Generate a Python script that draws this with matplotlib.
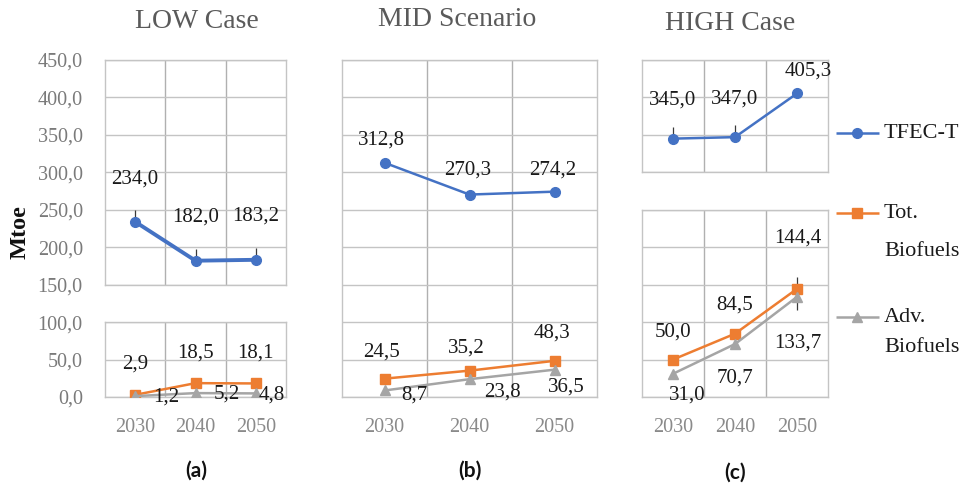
import matplotlib
matplotlib.use("Agg")
import matplotlib.pyplot as plt
from matplotlib.ticker import FuncFormatter, MultipleLocator

# ---------------- data (Mtoe) ----------------
years = ["2030", "2040", "2050"]

low_tfec = [234.0, 182.0, 183.2]
low_tot_bio = [2.9, 18.5, 18.1]
low_adv_bio = [1.2, 5.2, 4.8]

mid_tfec = [312.8, 270.3, 274.2]
mid_tot_bio = [24.5, 35.2, 48.3]
mid_adv_bio = [8.7, 23.8, 36.5]

high_tfec = [345.0, 347.0, 405.3]
high_tot_bio = [50.0, 84.5, 144.4]
high_adv_bio = [31.0, 70.7, 133.7]

# uncertainty whiskers (lower, upper)
low_tfec_err = ([0, 0, 0], [16, 16, 16])
high_tfec_err = ([0, 0, 0], [16, 16, 0])
high_tot_err = ([0, 0, 0], [0, 0, 16])
high_adv_err = ([0, 0, 17], [0, 0, 0])

panel_titles = ["LOW Case", "MID Scenario", "HIGH Case"]
panel_letters = ["(a)", "(b)", "(c)"]
series_names = ["TFEC-T", "Tot.\nBiofuels", "Adv.\nBiofuels"]

# ---------------- style ----------------
W, H = 969, 492
C_TFEC = "#4472C4"
C_TOT = "#ED7D31"
C_ADV = "#A5A5A5"
GRID = "#c4c4c4"
SERIF = "Liberation Serif"

Y_ZERO_PX = 397.0
PX_PER_UNIT = (397.0 - 60.0) / 450.0


def rect(x0, x1, vlo, vhi):
    ytop = Y_ZERO_PX - vhi * PX_PER_UNIT
    ybot = Y_ZERO_PX - vlo * PX_PER_UNIT
    return [x0 / W, 1 - ybot / H, (x1 - x0) / W, (ybot - ytop) / H]


fig = plt.figure(figsize=(W / 100, H / 100), dpi=100)
fig.patch.set_facecolor("white")

comma_fmt = FuncFormatter(lambda v, p: f"{v:.1f}".replace(".", ","))


def make_axes(x0, x1, vlo, vhi, show_y, show_x):
    ax = fig.add_axes(rect(x0, x1, vlo, vhi))
    ax.set_xlim(-0.5, 2.5)
    ax.set_ylim(vlo, vhi)
    ax.yaxis.set_major_locator(MultipleLocator(50))
    ax.set_xticks(range(3))
    ax.set_xticks([0.5, 1.5], minor=True)
    ax.grid(True, which="major", axis="y", color=GRID, lw=1.0)
    ax.grid(True, which="minor", axis="x", color="#b0b0b0", lw=1.0)
    ax.set_axisbelow(True)
    for s in ax.spines.values():
        s.set_color(GRID)
        s.set_linewidth(1.0)
    ax.tick_params(which="both", length=0)
    if show_y:
        ax.yaxis.set_major_formatter(comma_fmt)
        ax.tick_params(axis="y", labelsize=14.5, labelcolor="#7a7a7a", pad=16)
        for t in ax.get_yticklabels():
            t.set_fontfamily(SERIF)
    else:
        ax.set_yticklabels([])
    if show_x:
        ax.set_xticklabels(years)
        ax.tick_params(axis="x", labelsize=14.5, labelcolor="#8a8a8a", pad=15)
        for t in ax.get_xticklabels():
            t.set_fontfamily(SERIF)
    else:
        ax.set_xticklabels([])
    return ax


panels = [
    # x-range in px, value bands, series, label offsets (px), tfec width
    dict(x=(105, 286), bands=[(150, 450), (0, 100)],
         tfec=low_tfec, tot=low_tot_bio, adv=low_adv_bio,
         off_tfec=[(0, 43), (0, 44), (0, 44)],
         off_tot=[(0, 31), (0, 30), (0, 30)],
         off_adv=[(31, -1), (31, -1), (16, -2)],
         tfec_err=low_tfec_err, tot_err=None, adv_err=None, lw=2.8),
    dict(x=(342, 597), bands=[(0, 450)],
         tfec=mid_tfec, tot=mid_tot_bio, adv=mid_adv_bio,
         off_tfec=[(-3, 23), (-2, 25), (-2, 22)],
         off_tot=[(-3, 27), (-3, 23), (-2, 28)],
         off_adv=[(30, -5), (33, -13), (12, -17)],
         tfec_err=None, tot_err=None, adv_err=None, lw=1.8),
    dict(x=(642, 828), bands=[(300, 450), (0, 250)],
         tfec=high_tfec, tot=high_tot_bio, adv=high_adv_bio,
         off_tfec=[(0, 39), (0, 38), (11, 22)],
         off_tot=[(0, 28), (0, 29), (1, 51)],
         off_adv=[(14, -21), (0, -34), (1, -46)],
         tfec_err=high_tfec_err, tot_err=high_tot_err, adv_err=high_adv_err, lw=1.8),
]

label_kw = dict(textcoords="offset pixels", ha="center", va="center",
                fontsize=15, fontfamily=SERIF, color="#1a1a1a",
                annotation_clip=False, zorder=6)


def fmt(v):
    return f"{v:.1f}".replace(".", ",")


xs = list(range(3))
legend_handles = {}

for pi, p in enumerate(panels):
    x0, x1 = p["x"]
    nb = len(p["bands"])
    for bi, (vlo, vhi) in enumerate(p["bands"]):
        ax = make_axes(x0, x1, vlo, vhi, show_y=(pi == 0), show_x=(bi == nb - 1))
        series = [
            (p["tfec"], C_TFEC, "o", p["lw"], 7, p["off_tfec"], p["tfec_err"]),
            (p["tot"], C_TOT, "s", 1.8, 7, p["off_tot"], p["tot_err"]),
            (p["adv"], C_ADV, "^", 1.8, 6.5, p["off_adv"], p["adv_err"]),
        ]
        for si, (vals, col, mk, lw, ms, offs, err) in enumerate(series):
            if err is not None:
                ax.errorbar(xs, vals, yerr=[err[0], err[1]], fmt="none",
                            ecolor="#3a3a3a", elinewidth=0.9, capsize=0, zorder=3)
            ax.plot(xs, vals, color=col, lw=lw, marker=mk, ms=ms,
                    markerfacecolor=col, markeredgecolor=col, zorder=4)
            legend_handles.setdefault(si, (col, mk))
            for xi, v in enumerate(vals):
                if vlo <= v <= vhi:
                    ax.annotate(fmt(v), (xi, v), xytext=offs[xi], **label_kw)

# ---------------- titles, captions, axis label ----------------
title_pos = [(197, 22), (457, 20), (730, 23)]
letter_pos = [(196, 471), (470, 471), (735, 473)]
for t, (tx, ty) in zip(panel_titles, title_pos):
    fig.text(tx / W, 1 - ty / H, t, ha="center", va="center",
             fontsize=20, fontfamily=SERIF, color="#5a5a5a")
for t, (tx, ty) in zip(panel_letters, letter_pos):
    fig.text(tx / W, 1 - ty / H, t, ha="center", va="center",
             fontsize=15, fontfamily="Lato", fontweight="bold", color="#111111")

fig.text(20 / W, 1 - 232 / H, "Mtoe", rotation=90, ha="center", va="center",
         fontsize=17.5, fontfamily=SERIF, fontweight="bold", color="#111111")

# ---------------- legend ----------------
lax = fig.add_axes([0, 0, 1, 1])
lax.set_xlim(0, W)
lax.set_ylim(H, 0)
lax.axis("off")
legend_rows = [(133, [133]), (213, [213, 252]), (317, [317, 347])]
for si, (ky, text_ys) in enumerate(legend_rows):
    col, mk = legend_handles[si]
    lax.plot([836, 879], [ky, ky], color=col, lw=1.8, solid_capstyle="butt")
    lax.plot([857.5], [ky], marker=mk, color=col, ms=7 if mk != "^" else 6.5,
             markeredgecolor=col)
    for line, ty in zip(series_names[si].split("\n"), text_ys):
        lax.text(884, ty, line, ha="left", va="center", fontsize=16,
                 fontfamily=SERIF, color="#1a1a1a")

fig.savefig("out.png", dpi=100, facecolor="white")
